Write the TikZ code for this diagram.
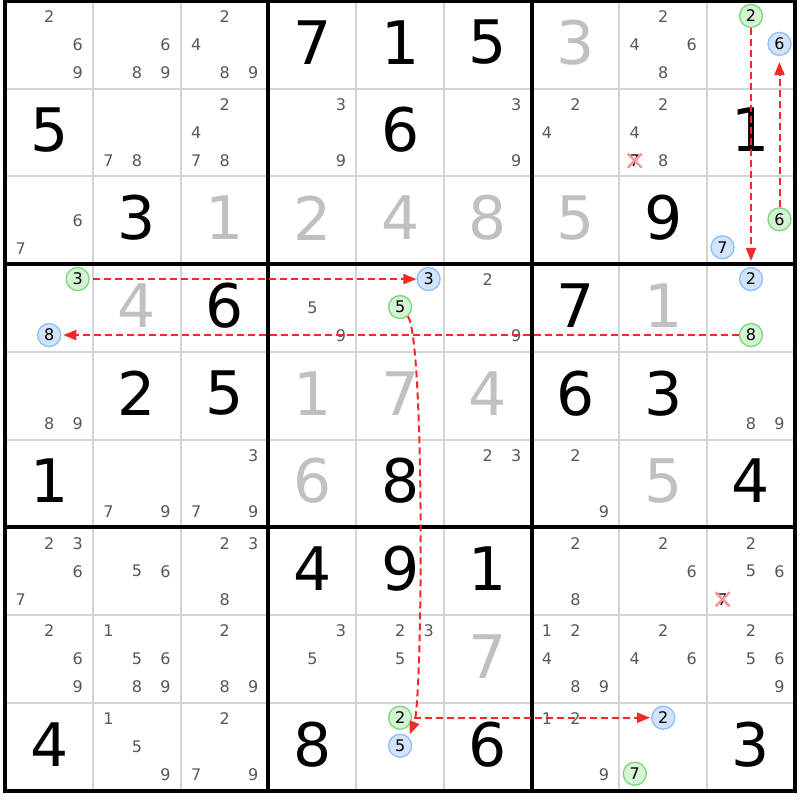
\documentclass[tikz,border=0pt]{standalone}
\usepackage{fontspec}
\setmainfont{DejaVu Sans}
\usetikzlibrary{arrows.meta,calc}
\definecolor{candgray}{RGB}{88,88,88}
\definecolor{givengray}{RGB}{192,192,192}
\definecolor{thingrid}{RGB}{212,212,212}
\definecolor{linkred}{RGB}{245,40,40}
\definecolor{gfill}{RGB}{212,244,212}
\definecolor{gline}{RGB}{125,212,125}
\definecolor{bfill}{RGB}{210,228,252}
\definecolor{bline}{RGB}{140,190,245}
\definecolor{xpink}{RGB}{245,150,150}
\begin{document}
\begin{tikzpicture}[x=1pt,y=-1pt,
  bigdigit/.style={inner sep=0pt,font=\fontsize{60}{60}\selectfont},
  solved/.style={bigdigit,text=black},
  given/.style={bigdigit,text=givengray},
  cand/.style={inner sep=0pt,font=\fontsize{16}{16}\selectfont,text=candgray},
  crossed/.style={inner sep=0pt,font=\fontsize{16}{16}\selectfont,text=black},
  xmark/.style={draw=xpink,line width=2.5pt},
  circbase/.style={circle,line width=1.3pt,minimum size=23pt,inner sep=0pt,font=\fontsize{16}{16}\selectfont,text=black},
  gcirc/.style={circbase,draw=gline,fill=gfill},
  bcirc/.style={circbase,draw=bline,fill=bfill},
  thinline/.style={draw=thingrid,line width=2pt},
  thickline/.style={draw=black,line width=4pt},
  link/.style={draw=linkred,line width=2pt,dash pattern=on 7pt off 4pt,-{Triangle[length=13pt,width=10pt]}},
]
\useasboundingbox (0,0) rectangle (800,800);
\fill[white] (0,0) rectangle (800,800);
% grid
\foreach \i in {1,2,4,5,7,8}{
  \draw[thinline] (5.3+87.73*\i,1) -- (5.3+87.73*\i,790.6);
  \draw[thinline] (5.3,1+87.73*\i) -- (794.9,1+87.73*\i);
}
\foreach \i in {0,3,6,9}{
  \draw[thickline] (5.3+87.73*\i,-1) -- (5.3+87.73*\i,792.6);
  \draw[thickline] (3.3,1+87.73*\i) -- (796.9,1+87.73*\i);
}
% solved digits
\foreach \r/\c/\v in {0/3/7,0/4/1,0/5/5,1/0/5,1/4/6,1/8/1,2/1/3,2/7/9,3/2/6,3/6/7,4/1/2,4/2/5,4/6/6,4/7/3,5/0/1,5/4/8,5/8/4,6/3/4,6/4/9,6/5/1,8/0/4,8/3/8,8/5/6,8/8/3}{
  \node[solved] (s\r\c) at (5.3+87.73*\c+43.87,1+87.73*\r+43.87-2.5) {\v};
}
% given digits
\foreach \r/\c/\v in {0/6/3,2/2/1,2/3/2,2/4/4,2/5/8,2/6/5,3/1/4,3/7/1,4/3/1,4/4/7,4/5/4,5/3/6,5/7/5,7/5/7}{
  \node[given] (v\r\c) at (5.3+87.73*\c+43.87,1+87.73*\r+43.87-2.5) {\v};
}
% candidates
\foreach \r/\c/\lst in {0/0/{2,6,9},0/1/{6,8,9},0/2/{2,4,8,9},0/7/{2,4,6,8},
  1/1/{7,8},1/2/{2,4,7,8},1/3/{3,9},1/5/{3,9},1/6/{2,4},1/7/{2,4,8},
  2/0/{6,7},3/3/{5,9},3/5/{2,9},4/0/{8,9},4/8/{8,9},
  5/1/{7,9},5/2/{3,7,9},5/5/{2,3},5/6/{2,9},
  6/0/{2,3,6,7},6/1/{5,6},6/2/{2,3,8},6/6/{2,8},6/7/{2,6},6/8/{2,5,6},
  7/0/{2,6,9},7/1/{1,5,6,8,9},7/2/{2,8,9},7/3/{3,5},7/4/{2,3,5},7/6/{1,2,4,8,9},7/7/{2,4,6},7/8/{2,5,6,9},
  8/1/{1,5,9},8/2/{2,7,9},8/6/{1,2,9}}{
  \foreach \d in \lst{
    \pgfmathsetmacro\px{5.3+87.73*(\c+0.5)+28.5*(mod(\d-1,3)-1)}
    \pgfmathsetmacro\py{1+87.73*(\r+0.5)+28*(int((\d-1)/3)-1)}
    \node[cand] (c\r\c\d) at (\px,\py) {\d};
  }
}
% crossed candidates
\foreach \r/\c/\d in {1/7/7,6/8/7}{
  \pgfmathsetmacro\px{5.3+87.73*(\c+0.5)+28.5*(mod(\d-1,3)-1)}
  \pgfmathsetmacro\py{1+87.73*(\r+0.5)+28*(int((\d-1)/3)-1)}
  \node[crossed] (x\r\c\d) at (\px,\py) {\d};
  \draw[xmark] ($(x\r\c\d.center)+(-7,-7)$) -- ($(x\r\c\d.center)+(7,7)$);
  \draw[xmark] ($(x\r\c\d.center)+(-7,7)$) -- ($(x\r\c\d.center)+(7,-7)$);
}
% circled candidates
\foreach \nm/\r/\c/\d/\sty in {gTwoTop/0/8/2/gcirc,bSix/0/8/6/bcirc,gSix/2/8/6/gcirc,bSeven/2/8/7/bcirc,
  gThree/3/0/3/gcirc,bEight/3/0/8/bcirc,bThree/3/4/3/bcirc,gFive/3/4/5/gcirc,
  bTwoMid/3/8/2/bcirc,gEight/3/8/8/gcirc,gTwoBot/8/4/2/gcirc,bFive/8/4/5/bcirc,
  bTwoBot/8/7/2/bcirc,gSeven/8/7/7/gcirc}{
  \pgfmathsetmacro\px{5.3+87.73*(\c+0.5)+28.5*(mod(\d-1,3)-1)}
  \pgfmathsetmacro\py{1+87.73*(\r+0.5)+28*(int((\d-1)/3)-1)-1}
  \node[\sty] (\nm) at (\px,\py) {\d};
}
% links
\draw[link,shorten >=6pt] (gTwoTop) -- (bTwoMid);
\draw[link,shorten >=6pt] (gSix) -- (bSix);
\draw[link,shorten <=3pt] (gThree) -- (bThree);
\draw[link,shorten >=2pt] (gEight) -- (bEight);
\draw[link,shorten >=3pt] (gFive.-50) .. controls +(17,24) and +(14,-36) .. (bFive.45);
\draw[link,shorten <=2pt,shorten >=1pt] (gTwoBot) -- (bTwoBot);
\end{tikzpicture}
\end{document}
